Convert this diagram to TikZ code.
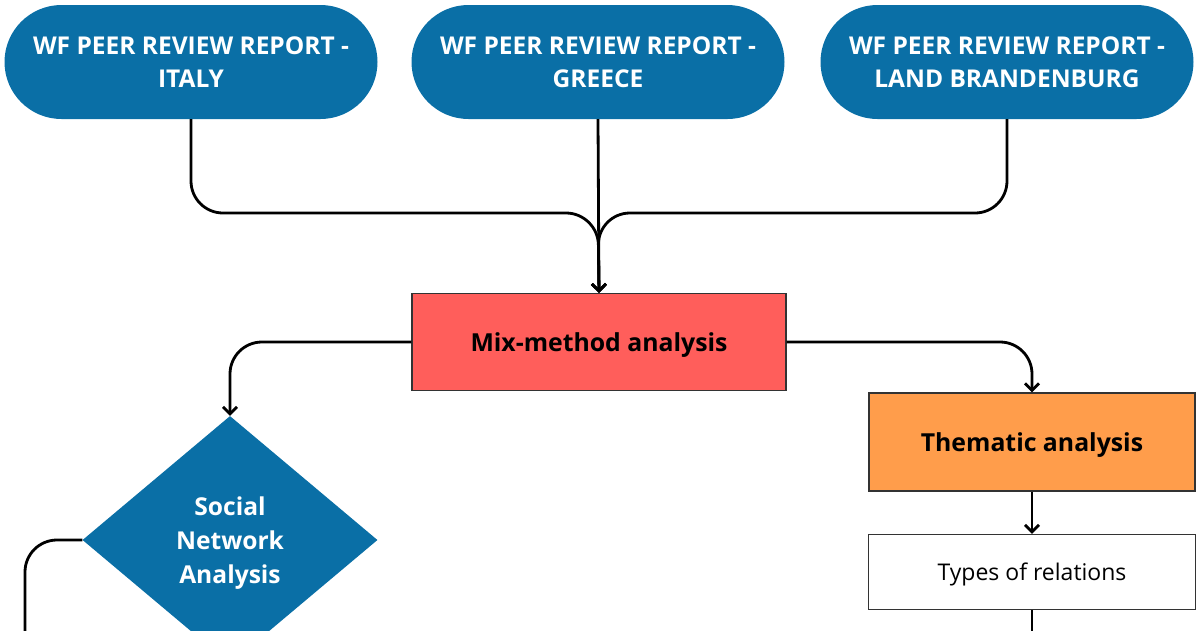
\documentclass[tikz,border=0pt]{standalone}
\usepackage{fontspec}
\setmainfont{Open Sans}
\usetikzlibrary{shapes.geometric, arrows.meta}

\definecolor{wfblue}{HTML}{0A6FA6}
\definecolor{mixred}{HTML}{FF5E5B}
\definecolor{themorange}{HTML}{FF9D4B}
\definecolor{edgegray}{HTML}{333333}

\begin{document}
\begin{tikzpicture}[x=1pt, y=-1pt, >={Straight Barb[length=7pt,width=14pt]},
    report/.style={draw=none, fill=wfblue, text=white, rounded corners=57pt,
        minimum width=373pt, minimum height=114pt, align=center,
        font=\fontsize{24.5}{33}\selectfont\bfseries},
    method/.style={draw=edgegray, line width=1.2pt, minimum width=374pt,
        minimum height=97pt, text depth=0pt, font=\fontsize{24.8}{30}\selectfont\bfseries},
    sub/.style={draw=edgegray, line width=1.2pt, minimum width=326pt,
        minimum height=98pt, text depth=0pt, font=\fontsize{24.8}{30}\selectfont\bfseries},
    detail/.style={draw=edgegray, line width=1.2pt, fill=white, text depth=0pt,
        minimum width=327pt, minimum height=75pt, font=\fontsize{23}{26}\selectfont},
    choice/.style={diamond, aspect=1.19, minimum width=295pt, minimum height=248pt,
        inner sep=0pt, fill=wfblue, text=white, align=center, text depth=0pt,
        font=\fontsize{24.6}{34}\selectfont\bfseries},
    conn/.style={line width=2.8pt, black, rounded corners=32pt}]

    % Cornice della figura
    \useasboundingbox (0,0) rectangle (1200,630);
    \clip (0,0) rectangle (1200,630);

    % Rapporti di partenza
    \node[report] (italy) at (191,62) {WF PEER REVIEW REPORT -\\ITALY};
    \node[report] (greece) at (598,62) {WF PEER REVIEW REPORT -\\GREECE};
    \node[report] (brand) at (1007,62) {WF PEER REVIEW REPORT -\\LAND BRANDENBURG};

    % Analisi
    \node[method, fill=mixred] (mix) at (599,342) {Mix-method analysis};
    \node[choice] (sna) at (230,540) {Social\\Network\\Analysis};
    \node[sub, fill=themorange] (them) at (1032,442) {Thematic analysis};
    \node[detail] (types) at (1032,572) {Types of relations};

    % Punti di appoggio per i collegamenti
    \coordinate (join) at (598,213);
    \coordinate (lowleft) at (25,660);
    \coordinate (lowright) at (1032,660);

    % Collegamenti
    \draw[conn, ->] (italy.south) |- (join) -- (mix.north);
    \draw[conn, ->] (brand.south) |- (join) -- (mix.north);
    \draw[conn, ->] (greece.south) -- (mix.north);
    \draw[conn, ->] (mix.west) -| (sna.north);
    \draw[conn, ->] (mix.east) -| (them.north);
    \draw[conn, ->] (them.south) -- (types.north);
    \draw[conn] (sna.west) -| (lowleft);
    \draw[conn] (types.south) -- (lowright);

\end{tikzpicture}
\end{document}
